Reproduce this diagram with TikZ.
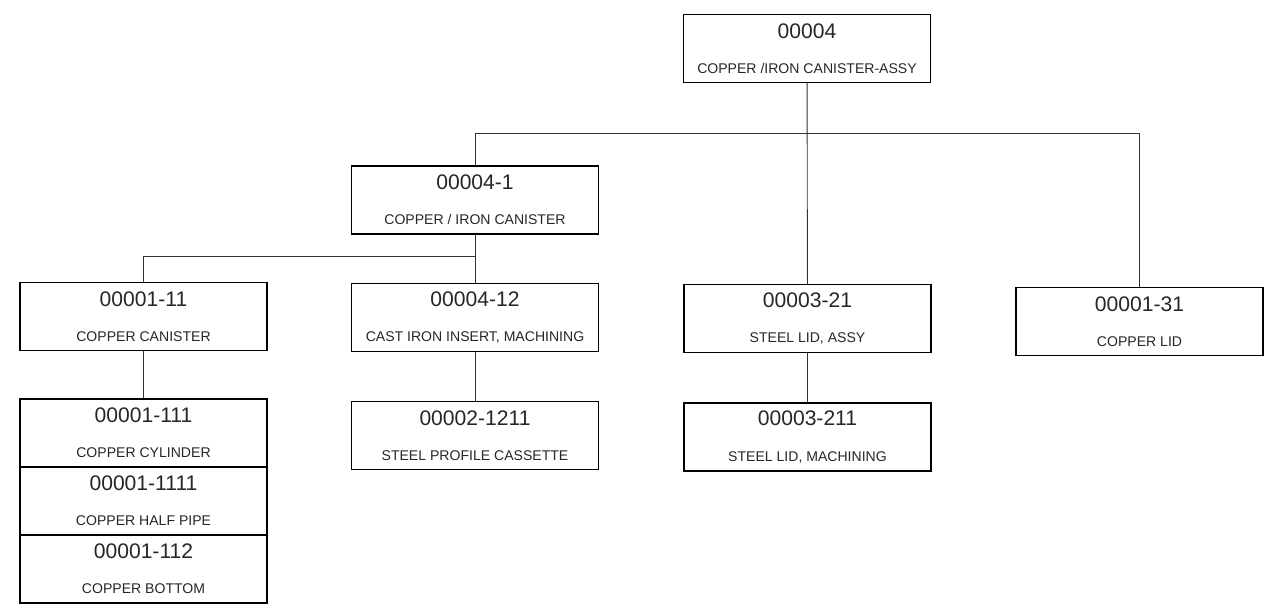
\documentclass[tikz,border=0pt]{standalone}
\usepackage{fontspec}
\setmainfont{Liberation Sans}
\usepackage{tikz}
\usetikzlibrary{positioning}
\tikzset{
  partbox/.style={
    draw, line width=0.7pt,
    minimum width=4.94cm, minimum height=1.36cm,
    inner sep=0pt, align=center, text=black!85,
    font=\fontsize{8}{9}\selectfont
  },
  link/.style={line width=0.5pt, draw=black!80}
}
\newcommand{\partno}[1]{{\fontsize{12}{12}\selectfont #1}\\[11pt]}

\begin{document}
\begin{tikzpicture}

\useasboundingbox (0,0) rectangle (25.38,12.24);

% top assembly
\node[partbox] (asm) at (16.14,11.27) {\partno{00004}COPPER /IRON CANISTER-ASSY};

% first level
\node[partbox] (n1) at (9.50,8.24) {\partno{00004-1}COPPER / IRON CANISTER};
\node[partbox] (n21) at (16.15,5.87) {\partno{00003-21}STEEL LID, ASSY};
\node[partbox] (n31) at (22.79,5.81) {\partno{00001-31}COPPER LID};

% second level
\node[partbox] (n11) at (2.87,5.91) {\partno{00001-11}COPPER CANISTER};
\node[partbox] (n12) at (9.50,5.89) {\partno{00004-12}CAST IRON INSERT, MACHINING};

% third level, stacked
\node[partbox] (n111) at (2.87,3.58) {\partno{00001-111}COPPER CYLINDER};
\node[partbox] (n1111) at (2.87,2.22) {\partno{00001-1111}COPPER HALF PIPE};
\node[partbox] (n112) at (2.87,0.86) {\partno{00001-112}COPPER BOTTOM};
\node[partbox] (n1211) at (9.50,3.53) {\partno{00002-1211}STEEL PROFILE CASSETTE};
\node[partbox] (n211) at (16.15,3.50) {\partno{00003-211}STEEL LID, MACHINING};

% connectors
\draw[link] (asm) -- (n21);
\draw[link] (n1.north) -- ++(0,0.64) -| (n31.north);
\draw[link] (n1) -- (n12);
\draw[link] (n11.north) -- ++(0,0.5) -| (n12.north);
\draw[link] (n11) -- (n111);
\draw[link] (n12) -- (n1211);
\draw[link] (n21) -- (n211);

\end{tikzpicture}
\end{document}
